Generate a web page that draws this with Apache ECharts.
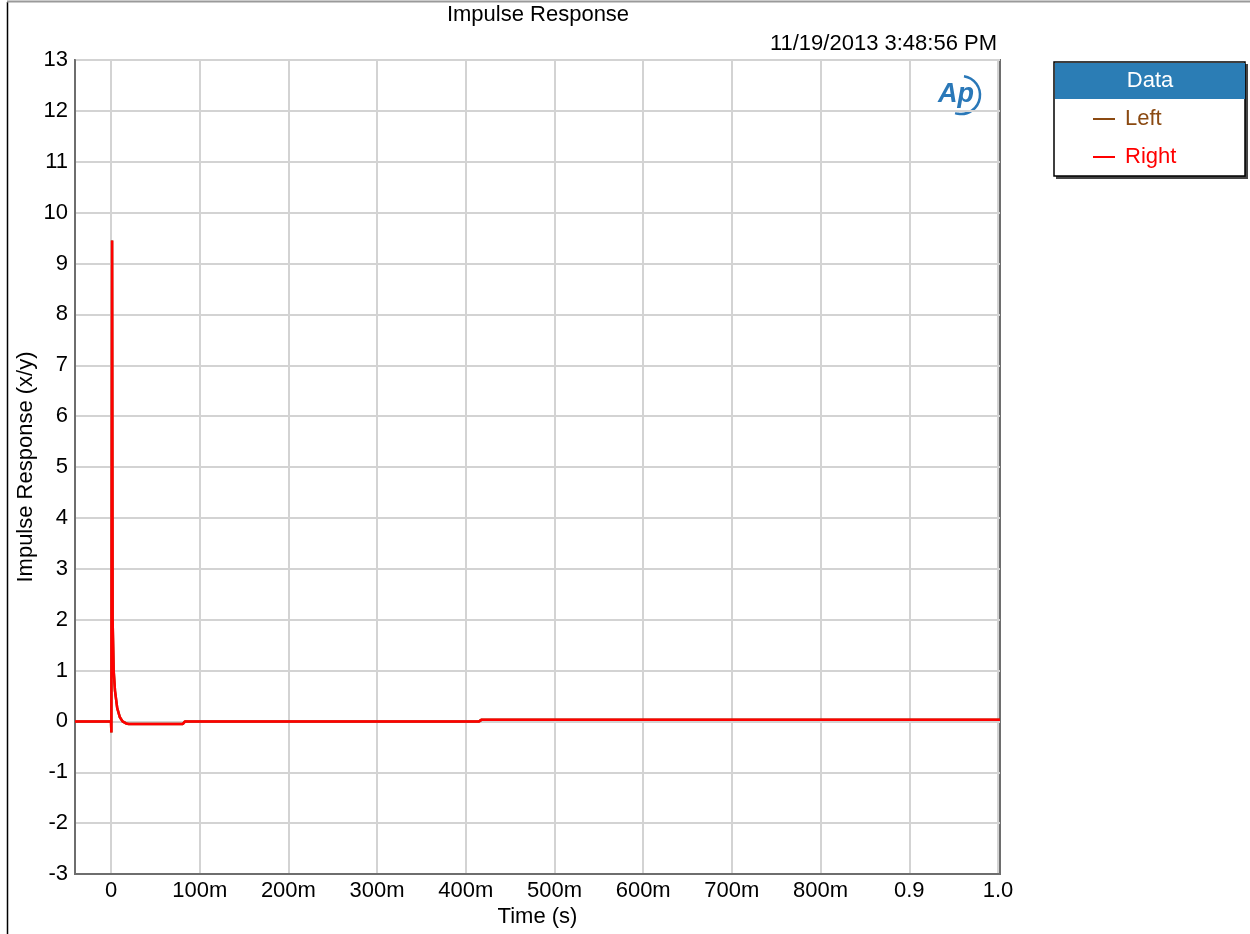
<!DOCTYPE html>
<html>
<head>
<meta charset="utf-8">
<title>Impulse Response</title>
<script src="https://cdn.jsdelivr.net/npm/echarts@6/dist/echarts.min.js"></script>
<style>
  html, body { margin: 0; padding: 0; background: #fff; }
  #chart { width: 1250px; height: 934px; }
</style>
</head>
<body>
<div id="chart"></div>
<script>
// Time samples (s) and measured impulse response (x/y) for each channel
const timeSec = [-0.0406, 0.0, 0.0004, 0.0012, 0.0018, 0.0030, 0.0045, 0.0070, 0.0100, 0.0130, 0.0170, 0.0200, 0.0810, 0.0835, 0.4150, 0.4175, 1.0023];
const leftValues  = [0, 0, -0.22, 9.45, 2.0, 1.0, 0.6, 0.26, 0.08, 0.0, -0.04, -0.05, -0.05, 0.0, 0.0, 0.03, 0.03];
const rightValues = [0, 0, -0.22, 9.45, 2.0, 1.0, 0.6, 0.26, 0.08, 0.0, -0.04, -0.05, -0.05, 0.0, 0.0, 0.03, 0.03];

// Axis ticks
const xTicks = [0, 0.1, 0.2, 0.3, 0.4, 0.5, 0.6, 0.7, 0.8, 0.9, 1.0];
const xTickLabels = ['0', '100m', '200m', '300m', '400m', '500m', '600m', '700m', '800m', '0.9', '1.0'];

const seriesNames = ['Left', 'Right'];
const seriesColors = ['#8B4A12', '#FF0000'];

const FONT = '"Liberation Sans", Arial, Helvetica, sans-serif';
const FS = 22;

function pairs(xs, ys) {
  return xs.map((x, i) => [x, ys[i]]);
}

function xLabel(v) {
  for (let i = 0; i < xTicks.length; i++) {
    if (Math.abs(v - xTicks[i]) < 1e-6) return xTickLabels[i];
  }
  return '';
}

const chart = echarts.init(document.getElementById('chart'), null, { renderer: 'canvas' });

const option = {
  backgroundColor: '#ffffff',
  animation: false,
  textStyle: { fontFamily: FONT },
  grid: {
    left: 75, top: 60, right: 250, bottom: 60,
    show: true, borderColor: '#6e6e6e', borderWidth: 2, backgroundColor: 'transparent'
  },
  xAxis: {
    type: 'value',
    min: -0.0406, max: 1.0023,
    name: 'Time (s)',
    nameLocation: 'middle',
    nameGap: 32,
    nameMoveOverlap: false,
    nameTextStyle: { color: '#000', fontSize: FS, fontFamily: FONT },
    axisLine: { show: true, onZero: false, lineStyle: { color: '#6e6e6e', width: 2 } },
    axisTick: { show: false, customValues: xTicks },
    axisLabel: { customValues: xTicks, formatter: xLabel, color: '#000', fontSize: FS, margin: 6, fontFamily: FONT },
    splitLine: { show: true, lineStyle: { color: '#d3d3d3', width: 2 } }
  },
  yAxis: {
    type: 'value',
    min: -3, max: 13, interval: 1,
    name: 'Impulse Response (x/y)',
    nameLocation: 'middle',
    nameGap: 38,
    nameMoveOverlap: false,
    nameTextStyle: { color: '#000', fontSize: FS, fontFamily: FONT },
    axisLine: { show: true, onZero: false, lineStyle: { color: '#6e6e6e', width: 2 } },
    axisTick: { show: false },
    axisLabel: { color: '#000', fontSize: FS, margin: 7, fontFamily: FONT },
    splitLine: { show: true, lineStyle: { color: '#d3d3d3', width: 2 } }
  },
  legend: {
    orient: 'vertical',
    left: 1093, top: 108,
    padding: 0,
    itemWidth: 22, itemHeight: 2, itemGap: 16,
    icon: 'rect',
    textStyle: { fontSize: FS, fontFamily: FONT, padding: [0, 0, 0, 5] },
    data: [
      { name: seriesNames[0], textStyle: { color: seriesColors[0] } },
      { name: seriesNames[1], textStyle: { color: seriesColors[1] } }
    ]
  },
  series: [
    {
      name: seriesNames[0], type: 'line', data: pairs(timeSec, leftValues),
      showSymbol: false, symbol: 'none', clip: true,
      lineStyle: { color: seriesColors[0], width: 2.5 }, itemStyle: { color: seriesColors[0] }
    },
    {
      name: seriesNames[1], type: 'line', data: pairs(timeSec, rightValues),
      showSymbol: false, symbol: 'none', clip: true,
      lineStyle: { color: seriesColors[1], width: 2.5 }, itemStyle: { color: seriesColors[1] }
    }
  ],
  graphic: [
    // page frame
    { type: 'line', shape: { x1: 7.5, y1: 2, x2: 7.5, y2: 934 }, style: { stroke: '#000', lineWidth: 1.5 }, silent: true },
    { type: 'line', shape: { x1: 7, y1: 1.5, x2: 1250, y2: 1.5 }, style: { stroke: '#9a9a9a', lineWidth: 2 }, silent: true },
    // titles
    { type: 'text', x: 538, y: 15, style: { text: 'Impulse Response', font: FS + 'px ' + FONT, fill: '#000', textAlign: 'center', textVerticalAlign: 'middle' } },
    { type: 'text', x: 997, y: 44, style: { text: '11/19/2013 3:48:56 PM', font: FS + 'px ' + FONT, fill: '#000', textAlign: 'right', textVerticalAlign: 'middle' } },
    // AP mark
    { type: 'text', x: 956, y: 95, style: { text: 'Ap', font: 'italic bold 27px ' + FONT, fill: '#2a78b8', textAlign: 'center', textVerticalAlign: 'middle' } },
    { type: 'arc', shape: { cx: 961, cy: 95, r: 19, startAngle: -Math.PI * 0.45, endAngle: Math.PI * 0.6 }, style: { stroke: '#2a78b8', lineWidth: 2.5, fill: null } },
    // legend box
    { type: 'rect', shape: { x: 1056, y: 64, width: 192, height: 115 }, style: { fill: '#444' }, z: 0 },
    { type: 'rect', shape: { x: 1054, y: 62, width: 191, height: 114 }, style: { fill: '#fff', stroke: '#000', lineWidth: 1.5 }, z: 1 },
    { type: 'rect', shape: { x: 1055, y: 63, width: 190, height: 36 }, style: { fill: '#2b7db5' }, z: 2 },
    { type: 'text', x: 1150, y: 81, z: 3, style: { text: 'Data', font: FS + 'px ' + FONT, fill: '#fff', textAlign: 'center', textVerticalAlign: 'middle' } }
  ]
};

chart.setOption(option);
</script>
</body>
</html>
